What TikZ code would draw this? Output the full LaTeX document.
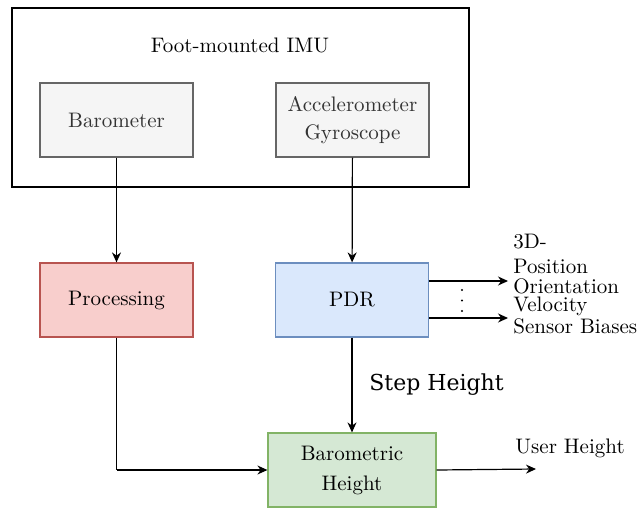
\documentclass[tikz,border=0pt]{standalone}
\usepackage{fontspec}
\newfontfamily\stepfont{DejaVu Serif}
\usetikzlibrary{arrows.meta}
\definecolor{grayfill}{HTML}{F5F5F5}
\definecolor{graydraw}{HTML}{666666}
\definecolor{graytext}{HTML}{333333}
\definecolor{redfill}{HTML}{F8CECC}
\definecolor{reddraw}{HTML}{B85450}
\definecolor{bluefill}{HTML}{DAE8FC}
\definecolor{bluedraw}{HTML}{6C8EBF}
\definecolor{greenfill}{HTML}{D5E8D4}
\definecolor{greendraw}{HTML}{82B366}
\begin{document}
\begin{tikzpicture}[x=0.5pt,y=-0.5pt,
  every node/.style={font=\fontsize{10.5}{13}\selectfont},
  box/.style={draw, line width=0.6pt, minimum width=76.5pt, minimum height=37pt, inner sep=0pt, align=center},
  graybox/.style={box, fill=grayfill, draw=graydraw, text=graytext},
  redbox/.style={box, fill=redfill, draw=reddraw},
  bluebox/.style={box, fill=bluefill, draw=bluedraw},
  greenbox/.style={box, fill=greenfill, draw=greendraw, minimum width=84pt},
  arr/.style={-{Stealth[length=5pt,width=4.5pt]}, line width=0.6pt},
  lbl/.style={anchor=west, inner sep=0pt},
  dotmark/.style={circle, fill=black, inner sep=0pt, minimum size=1.1pt}]
\useasboundingbox (0,0) rectangle (641,508);
\node[draw, line width=0.6pt, minimum width=228.5pt, minimum height=89.5pt, inner sep=0pt] (imu) at (240.5,97.5) {};
\node (imutitle) at (240,45) {Foot-mounted IMU};
\node[graybox] (baro) at (116.5,120) {Barometer};
\node[graybox] (acc) at (352.5,120) {Accelerometer\\[1pt]Gyroscope};
\node[redbox] (proc) at (116.5,300) {Processing};
\node[bluebox] (pdr) at (352,300) {PDR};
\node[greenbox] (bh) at (352,470) {Barometric\\[2pt]Height};
\coordinate (o1) at (508,281);
\coordinate (o2) at (508,318);
\coordinate (uh) at (536,469);
\coordinate (corner) at (116.5,470);
\draw[arr] (baro) -- (proc);
\draw[arr] (acc) -- (pdr);
\draw[arr] (pdr) -- (bh);
\draw[line width=0.6pt] (proc.south) -- (corner);
\draw[arr] (corner) -- (bh.west);
\draw[arr] (pdr.east |- o1) -- (o1);
\draw[arr] (pdr.east |- o2) -- (o2);
\draw[arr] (bh.east) -- (uh);
\node[dotmark] (d1) at (462,290) {};
\node[dotmark] (d2) at (462,300.5) {};
\node[dotmark] (d3) at (462,311) {};
\node[lbl] (t3d) at (513,242) {3D-};
\node[lbl] (tpos) at (513,266) {Position};
\node[lbl] (tori) at (513,286) {Orientation};
\node[lbl] (tvel) at (513,306) {Velocity};
\node[lbl] (tsen) at (513,326) {Sensor Biases};
\node[lbl] (uhl) at (515,448) {User Height};
\node[lbl, font=\stepfont\fontsize{11}{13}\selectfont] (step) at (369,385) {Step Height};
\end{tikzpicture}
\end{document}
